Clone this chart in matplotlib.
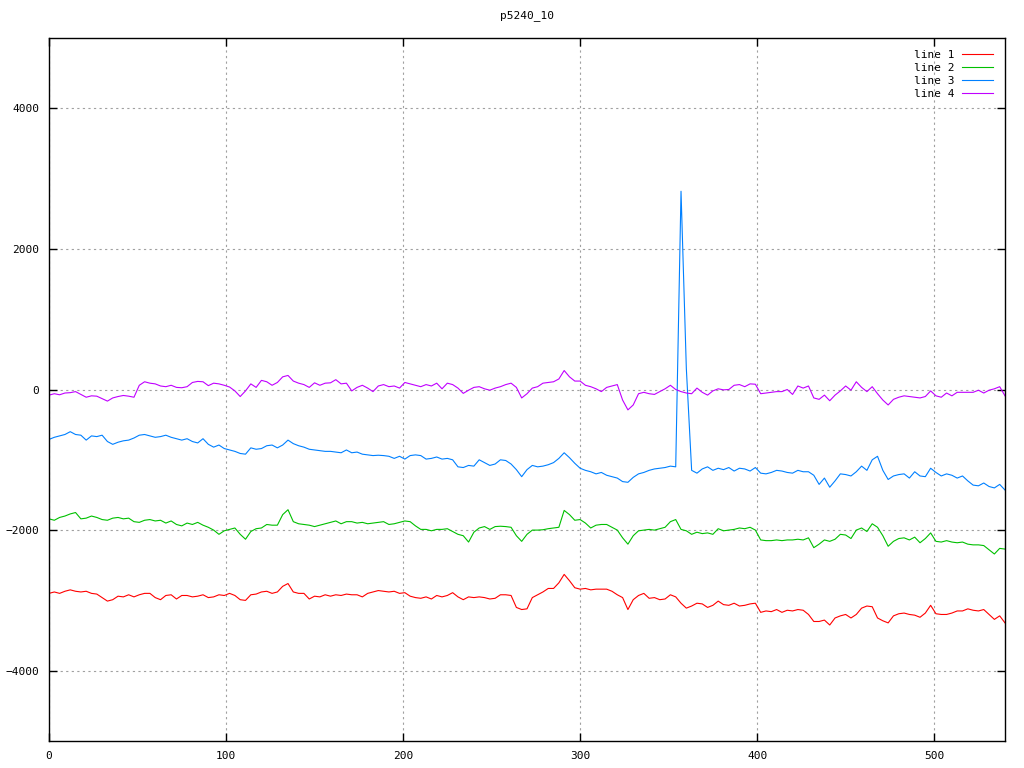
import numpy as np
import matplotlib
matplotlib.use("Agg")
import matplotlib.pyplot as plt

# --- data, sampled every 3 units along x ---
STEP = 3

line1 = [  # red
    -2900, -2880, -2900, -2870, -2850, -2870, -2880, -2870, -2900, -2910,
    -2960, -3010, -2990, -2940, -2950, -2920, -2950, -2920, -2900, -2900,
    -2960, -2990, -2930, -2920, -2980, -2930, -2930, -2950, -2940, -2920,
    -2960, -2950, -2920, -2930, -2900, -2930, -2990, -3000, -2920, -2910,
    -2880, -2870, -2900, -2880, -2800, -2760, -2880, -2900, -2900, -2980,
    -2940, -2950, -2920, -2940, -2920, -2930, -2910, -2920, -2920, -2950,
    -2900, -2880, -2860, -2870, -2880, -2870, -2900, -2890, -2940, -2960,
    -2970, -2950, -2980, -2930, -2950, -2930, -2890, -2950, -2990, -2950,
    -2960, -2950, -2960, -2980, -2970, -2920, -2920, -2930, -3100, -3130,
    -3120, -2960, -2920, -2880, -2830, -2830, -2750, -2630, -2720, -2820,
    -2840, -2830, -2850, -2840, -2840, -2840, -2870, -2920, -2960, -3130,
    -2990, -2930, -2900, -2970, -2960, -2990, -2980, -2920, -2950, -3040,
    -3110, -3080, -3040, -3050, -3100, -3070, -3010, -3060, -3070, -3040,
    -3080, -3070, -3050, -3040, -3170, -3150, -3160, -3130, -3170, -3140,
    -3150, -3130, -3140, -3200, -3300, -3300, -3280, -3350, -3250, -3220,
    -3200, -3250, -3200, -3110, -3080, -3090, -3250, -3290, -3320, -3220,
    -3190, -3180, -3200, -3210, -3240, -3180, -3070, -3190, -3200, -3200,
    -3180, -3150, -3150, -3120, -3140, -3150, -3130, -3200, -3270, -3220,
    -3320,
]

line2 = [  # green
    -1840, -1860, -1820, -1800, -1770, -1750, -1840, -1830, -1800, -1820,
    -1850, -1860, -1830, -1820, -1840, -1830, -1880, -1890, -1860, -1850,
    -1870, -1860, -1900, -1870, -1920, -1940, -1900, -1920, -1890, -1930,
    -1960, -2000, -2060, -2010, -1990, -1970, -2060, -2130, -2020, -1980,
    -1970, -1920, -1930, -1930, -1780, -1710, -1880, -1910, -1920, -1930,
    -1950, -1930, -1910, -1890, -1870, -1910, -1880, -1880, -1900, -1890,
    -1910, -1900, -1890, -1880, -1920, -1910, -1890, -1870, -1880, -1940,
    -1990, -1990, -2010, -1990, -1990, -1980, -2020, -2060, -2080, -2170,
    -2030, -1970, -1950, -1990, -1950, -1945, -1950, -1960, -2080, -2160,
    -2060, -2000, -2000, -1995, -1980, -1970, -1960, -1720, -1780, -1860,
    -1850, -1900, -1970, -1930, -1920, -1920, -1960, -2000, -2110, -2200,
    -2080, -2010, -2000, -1990, -2000, -1980, -1960, -1880, -1850, -1990,
    -2010, -2060, -2030, -2050, -2040, -2060, -1980, -2010, -2000, -1990,
    -1970, -1980, -1960, -2000, -2140, -2150, -2150, -2140, -2150, -2140,
    -2140, -2130, -2140, -2110, -2250, -2200, -2140, -2160, -2130, -2060,
    -2070, -2120, -2000, -1970, -2020, -1910, -1960, -2080, -2230, -2160,
    -2120, -2110, -2140, -2100, -2180, -2120, -2040, -2160, -2170, -2150,
    -2170, -2180, -2170, -2200, -2210, -2210, -2220, -2280, -2340, -2260,
    -2270,
]

line3 = [  # blue
    -710, -680, -660, -640, -600, -640, -650, -720, -660, -670,
    -650, -740, -780, -750, -730, -720, -690, -650, -640, -660,
    -680, -670, -650, -680, -700, -720, -700, -740, -760, -700,
    -780, -820, -790, -840, -860, -880, -910, -920, -830, -850,
    -840, -800, -790, -830, -790, -720, -770, -800, -820, -850,
    -860, -870, -880, -880, -890, -900, -860, -900, -890, -920,
    -930, -940, -935, -940, -950, -980, -950, -990, -940, -930,
    -940, -990, -980, -960, -990, -980, -1000, -1100, -1110, -1080,
    -1090, -1000, -1040, -1080, -1060, -1000, -1010, -1060, -1140, -1240,
    -1140, -1080, -1100, -1090, -1070, -1040, -980, -900, -970, -1050,
    -1120, -1150, -1170, -1200, -1180, -1220, -1240, -1260, -1310, -1320,
    -1250, -1200, -1180, -1150, -1130, -1120, -1110, -1090, -1100, 2820,
    300, -1150, -1190, -1130, -1100, -1150, -1120, -1140, -1110, -1160,
    -1120, -1130, -1160, -1110, -1190, -1200, -1180, -1150, -1160, -1180,
    -1190, -1150, -1170, -1170, -1220, -1350, -1260, -1390, -1300, -1200,
    -1210, -1230, -1170, -1090, -1150, -1000, -950, -1150, -1280, -1230,
    -1210, -1200, -1260, -1170, -1230, -1240, -1120, -1180, -1230, -1200,
    -1220, -1260, -1230, -1300, -1360, -1370, -1330, -1380, -1400, -1350,
    -1430,
]

line4 = [  # purple
    -80, -60, -75, -50, -45, -30, -70, -110, -90, -95,
    -130, -165, -120, -100, -85, -95, -110, 60, 110, 90,
    80, 50, 40, 60, 30, 25, 40, 100, 115, 110,
    55, 90, 80, 60, 35, -20, -100, -20, 80, 30,
    130, 110, 60, 100, 180, 200, 120, 90, 70, 30,
    95, 60, 90, 95, 140, 80, 90, -20, 30, 60,
    20, -30, 50, 70, 40, 50, 20, 100, 80, 60,
    40, 70, 50, 90, 10, 90, 70, 20, -55, -10,
    30, 40, 10, -10, 20, 40, 70, 90, 30, -120,
    -60, 20, 40, 90, 100, 110, 150, 270, 180, 120,
    120, 60, 40, 10, -30, 30, 50, 70, -150, -290,
    -220, -60, -40, -60, -70, -30, 10, 60, 0, -30,
    -50, -60, 20, -40, -80, -20, 10, -5, 0, 60,
    70, 40, 80, 75, -60, -50, -40, -30, -30, 0,
    -70, 50, 20, 50, -120, -140, -80, -160, -80, -20,
    50, -10, 110, 30, -30, 40, -60, -150, -220, -140,
    -110, -90, -100, -110, -120, -100, -20, -90, -110, -50,
    -90, -40, -40, -40, -40, -10, -50, -10, 10, 40,
    -90,
]

series = [("line 1", line1, "#ff0000"),
          ("line 2", line2, "#00c000"),
          ("line 3", line3, "#0080ff"),
          ("line 4", line4, "#c000ff")]

xticks = [0, 100, 200, 300, 400, 500]
yticks = [-4000, -2000, 0, 2000, 4000]

FONT = "DejaVu Sans Mono"

fig = plt.figure(figsize=(10.24, 7.68), dpi=100)
ax = fig.add_axes([49 / 1024, 1 - 741 / 768, (1005 - 49) / 1024, (741 - 38) / 768])

for name, vals, col in series:
    x = np.arange(len(vals)) * STEP
    ax.plot(x, vals, color=col, lw=0.8, label=name)

ax.set_xlim(0, 540)
ax.set_ylim(-5000, 5000)
ax.set_xticks(xticks)
ax.set_yticks(yticks)
ax.tick_params(direction="in", length=6, width=1, top=True, right=True,
               labelsize=8, pad=7)
for lab in ax.get_xticklabels() + ax.get_yticklabels():
    lab.set_family(FONT)
ax.grid(True, color="#a0a0a0", linestyle=(0, (2, 3)), linewidth=0.8)
for sp in ax.spines.values():
    sp.set_linewidth(1.0)

ax.set_title("p5240_10", fontsize=8, family=FONT, pad=14)

leg = ax.legend(loc="upper right", frameon=False, markerfirst=False,
                handlelength=2.8, handletextpad=0.6, labelspacing=0.27,
                borderaxespad=0.7, prop={"family": FONT, "size": 8})

fig.savefig("out.png", dpi=100)
